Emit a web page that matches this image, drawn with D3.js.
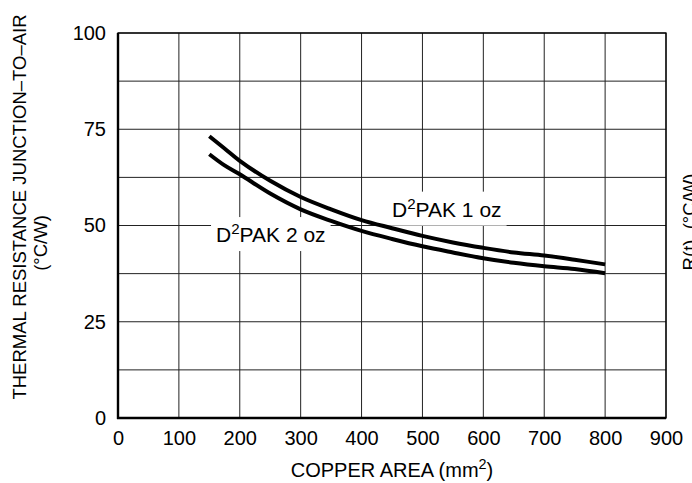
<!DOCTYPE html>
<html><head><meta charset="utf-8">
<script src="https://cdn.jsdelivr.net/npm/d3@7"></script>
<style>body{margin:0;background:#fff} svg{display:block} text{font-family:"Liberation Sans",Arial,Helvetica,sans-serif;fill:#000}</style>
</head><body><svg id="c" width="692" height="483"></svg>
<script>
const copperArea = [150,175,200,250,300,350,400,450,500,550,600,650,700,750,800];
const rOneOz = [73.2,70.0,66.8,61.6,57.4,54.2,51.4,49.3,47.3,45.6,44.2,43.0,42.2,41.1,39.9];
const rTwoOz = [68.5,65.6,63.3,58.3,54.2,51.2,48.6,46.5,44.6,43.0,41.5,40.3,39.4,38.7,37.6];
const xTicks = [0,100,200,300,400,500,600,700,800,900];
const yTicks = [0,25,50,75,100];
const yGrid = [0,12.5,25,37.5,50,62.5,75,87.5,100];
const seriesLabels = ["1 oz","2 oz"];

const svg = d3.select("#c");
const L=118,R=666,T=33,B=418;
const x = d3.scaleLinear().domain([0,900]).range([L,R]);
const y = d3.scaleLinear().domain([0,100]).range([B,T]);
const FS = 20;

// grid
svg.append("g").selectAll("line").data(xTicks).join("line")
  .attr("x1",d=>x(d)).attr("x2",d=>x(d)).attr("y1",T).attr("y2",B)
  .attr("stroke","#222").attr("stroke-width",1);
svg.append("g").selectAll("line").data(yGrid).join("line")
  .attr("y1",d=>y(d)).attr("y2",d=>y(d)).attr("x1",L).attr("x2",R)
  .attr("stroke","#222").attr("stroke-width",1);

// frame
svg.append("rect").attr("x",L).attr("y",T).attr("width",R-L).attr("height",B-T)
  .attr("fill","none").attr("stroke","#000").attr("stroke-width",1.3);
svg.append("line").attr("x1",L).attr("x2",L).attr("y1",T).attr("y2",B+1).attr("stroke","#000").attr("stroke-width",2.4);
svg.append("line").attr("x1",L-1).attr("x2",R).attr("y1",B).attr("y2",B).attr("stroke","#000").attr("stroke-width",2.4);

// axes labels via d3 axes
const xAxis = svg.append("g").attr("transform",`translate(0,${B})`)
  .call(d3.axisBottom(x).tickValues(xTicks).tickSize(0).tickPadding(13));
xAxis.select(".domain").remove();
xAxis.selectAll("text").attr("font-size",FS).style("font-family","'Liberation Sans',Arial,sans-serif");
const yAxis = svg.append("g").attr("transform",`translate(${L},0)`)
  .call(d3.axisLeft(y).tickValues(yTicks).tickSize(0).tickPadding(12));
yAxis.select(".domain").remove();
yAxis.selectAll("text").attr("font-size",FS).style("font-family","'Liberation Sans',Arial,sans-serif");

// series labels with white background (drawn under curves)
const LFS = 21;
function label(xv,yv,suffix){
  const g = svg.append("g");
  const r = g.append("rect").attr("fill","#fff");
  const t = g.append("text").attr("x",x(xv)).attr("y",y(yv)).attr("font-size",LFS);
  t.append("tspan").text("D");
  t.append("tspan").attr("font-size",LFS*0.72).attr("dy",-8).text("2");
  t.append("tspan").attr("dy",8).text("PAK "+suffix);
  const bb = t.node().getBBox();
  r.attr("x",bb.x-5).attr("y",bb.y-3).attr("width",bb.width+10).attr("height",bb.height+8);
}
label(450,52.3,seriesLabels[0]);
label(161,45.7,seriesLabels[1]);

// curves
const line = d3.line().x((d,i)=>x(copperArea[i])).y(d=>y(d)).curve(d3.curveCatmullRom.alpha(0.5));
[rOneOz,rTwoOz].forEach(s=>{
  svg.append("path").attr("d",line(s)).attr("fill","none").attr("stroke","#000")
    .attr("stroke-width",4).attr("stroke-linejoin","round").attr("stroke-linecap","butt");
});

// titles
const TFS = 18.5;
svg.append("text").attr("transform","translate(26,207) rotate(-90)").attr("text-anchor","middle")
  .attr("font-size",TFS).text("THERMAL RESISTANCE JUNCTION–TO–AIR");
svg.append("text").attr("transform","translate(47,243) rotate(-90)").attr("text-anchor","middle")
  .attr("font-size",TFS).text("(°C/W)");
const xt = svg.append("text").attr("x",(L+R)/2).attr("y",477).attr("text-anchor","middle").attr("font-size",FS);
xt.append("tspan").text("COPPER AREA (mm");
xt.append("tspan").attr("font-size",FS*0.72).attr("dy",-8).text("2");
xt.append("tspan").attr("dy",8).text(")");
svg.append("text").attr("transform","translate(696,222) rotate(-90)").attr("text-anchor","middle")
  .attr("font-size",TFS).text("R(t), (°C/W)");
</script></body></html>
